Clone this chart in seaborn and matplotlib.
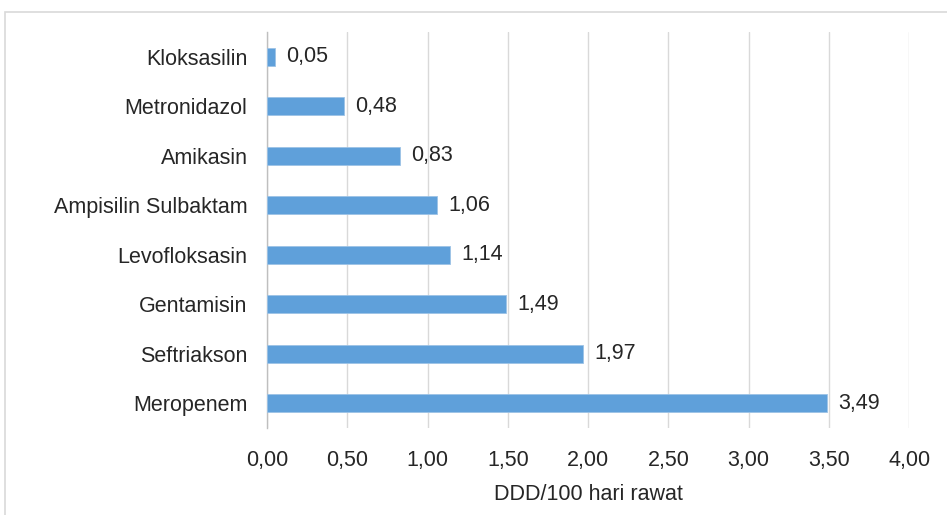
import matplotlib.pyplot as plt
import seaborn as sns
import pandas as pd
from matplotlib.patches import Rectangle

# Data
antibiotik = ["Kloksasilin", "Metronidazol", "Amikasin", "Ampisilin Sulbaktam",
              "Levofloksasin", "Gentamisin", "Seftriakson", "Meropenem"]
nilai = [0.05, 0.48, 0.83, 1.06, 1.14, 1.49, 1.97, 3.49]
xticks = [0, 0.5, 1.0, 1.5, 2.0, 2.5, 3.0, 3.5, 4.0]

dados = pd.DataFrame({"antibiotik": antibiotik, "nilai": nilai})

sns.set_theme(style="white")
plt.rcParams["font.family"] = ["Liberation Sans", "DejaVu Sans"]

fs = 15.5
fig = plt.figure(figsize=(9.47, 5.15), dpi=100)
ax = fig.add_axes([0.282, 0.169, 0.678, 0.769])

sns.barplot(data=dados, x="nilai", y="antibiotik", orient="h", color="#5FA0DA",
            saturation=1, width=0.37, edgecolor="#9DC3E6", linewidth=0.6, ax=ax, zorder=3)

ax.set_xlim(0, 4.0)
ax.set_ylim(7.5, -0.5)
ax.set_xticks(xticks)
ax.set_xticklabels([f"{v:.2f}".replace(".", ",") for v in xticks], fontsize=fs, color="#262626")
ax.tick_params(axis="x", length=0, pad=16)
ax.tick_params(axis="y", which="major", length=0, pad=14, labelsize=fs, labelcolor="#262626")
ax.set_yticks([i - 0.5 for i in range(len(antibiotik) + 1)], minor=True)
ax.tick_params(axis="y", which="minor", length=6, width=1, color="#bfbfbf", direction="out")

ax.grid(axis="x", color="#d9d9d9", linewidth=1, zorder=0)
ax.set_axisbelow(True)
for s in ["top", "right", "bottom"]:
    ax.spines[s].set_visible(False)
ax.spines["left"].set_color("#bfbfbf")
ax.spines["left"].set_linewidth(1)

ax.set_ylabel("")
ax.set_xlabel("DDD/100 hari rawat", fontsize=fs, color="#262626", labelpad=9)

# Value labels
for i, v in enumerate(nilai):
    ax.annotate(f"{v:.2f}".replace(".", ","), xy=(v, i), xytext=(8, 0),
                textcoords="offset points", va="center", ha="left",
                fontsize=fs, color="#262626")

# Outer border
fig.patches.append(Rectangle((5 / 947, -0.01), 1.0, 1 - 12 / 515 + 0.01,
                             transform=fig.transFigure, fill=False,
                             edgecolor="#d9d9d9", linewidth=1.2))

fig.savefig("out.png", dpi=100)
